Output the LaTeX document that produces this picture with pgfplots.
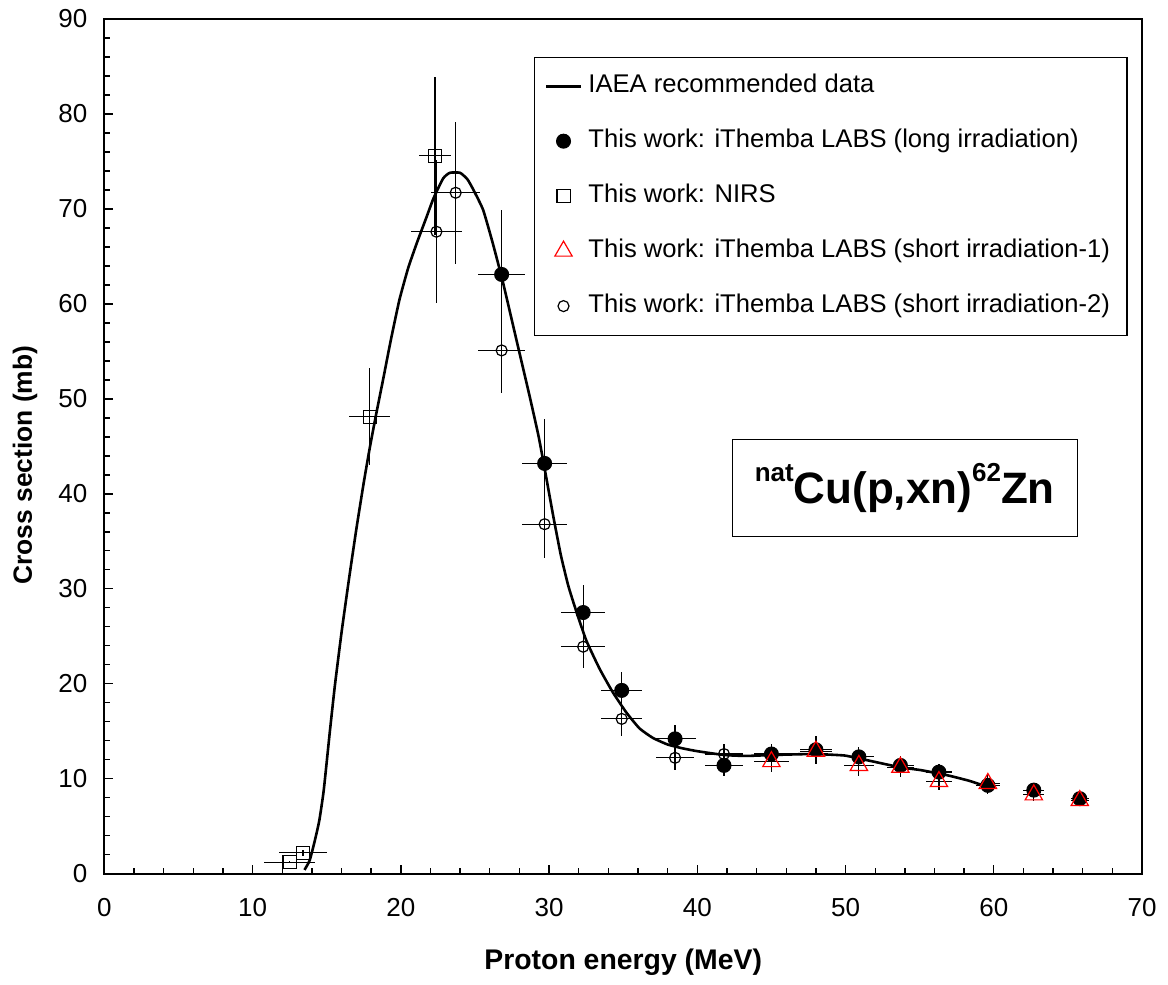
\documentclass[border=0pt]{standalone}
\usepackage{fontspec}
\setmainfont{Liberation Sans}
\usepackage{pgfplots}
\pgfplotsset{compat=1.18}
\usepackage{pgfplotstable}

\pgfplotstableread{
x y
13.5 0.4
13.85 1.4
14.2 3.5
14.5 5.6
14.8 8.8
15.2 14.8
15.55 19.8
16.0 25.4
16.5 31.0
17.0 36.3
17.5 41.2
17.9 44.8
18.3 48.1
18.8 52.0
19.3 56.0
19.9 60.4
20.5 63.8
21.1 66.5
21.7 69.0
22.2 71.1
22.85 73.2
23.3 73.8
24.0 73.8
24.5 73.1
24.9 72.0
25.55 69.9
26.2 66.4
26.9 62.2
27.8 56.2
28.7 50.2
29.3 46.0
29.8 41.8
30.3 37.5
30.8 33.5
31.3 30.3
31.8 27.8
32.5 24.6
33.4 21.6
34.3 19.1
35.2 17.0
36.1 15.3
37.0 14.3
38.0 13.6
39.0 13.2
40.0 12.9
41.8 12.5
43.3 12.4
45.1 12.5
47.8 12.6
49.9 12.45
51.0 12.1
51.9 11.8
53.7 11.2
55.1 10.9
56.9 10.35
58.3 9.8
59.1 9.4
59.7 9.2
}\iaea

\pgfplotstableread{
x y ex ey
26.8 63.1 1.6 6.8
29.7 43.2 1.5 4.7
32.3 27.5 1.5 2.9
34.9 19.3 1.4 1.9
38.5 14.2 1.4 1.5
41.8 11.4 1.3 1.1
45.0 12.6 1.2 1.1
48.0 13.05 1.1 1.4
50.9 12.3 1.0 1.0
53.7 11.4 0.9 1.0
56.3 10.7 0.9 0.9
59.6 9.3 0.8 0.9
62.7 8.8 0.7 0.6
65.8 7.9 0.6 0.5
}\longirr

\pgfplotstableread{
x y ex ey
12.5 1.2 1.7 0.1
13.4 2.2 1.6 0.3
17.9 48.1 1.4 5.1
22.3 75.6 1.1 8.3
}\nirs

\pgfplotstableread{
x y ex ey
45.0 11.8 1.2 1.1
48.0 12.9 1.1 1.3
50.9 11.4 1.0 1.1
53.7 11.2 0.9 1.0
56.3 9.7 0.9 0.9
59.6 9.5 0.8 0.9
62.7 8.3 0.7 0.6
65.8 7.7 0.6 0.5
}\shortone

\pgfplotstableread{
x y ex ey
22.4 67.6 1.7 7.5
23.7 71.7 1.65 7.5
26.8 55.1 1.6 4.5
29.7 36.8 1.5 3.6
32.3 23.9 1.5 2.2
34.9 16.3 1.4 1.8
38.5 12.2 1.3 1.3
41.8 12.6 1.3 1.1
}\shorttwo

\begin{document}
\begin{tikzpicture}
\begin{axis}[
  scale only axis, width=519pt, height=427.5pt,
  xmin=0, xmax=70, ymin=0, ymax=90,
  xtick={0,10,...,70}, ytick={0,10,...,90},
  minor x tick num=4, minor y tick num=4,
  tick align=inside, xtick pos=lower, ytick pos=left,
  major tick length=4.5pt, minor tick length=3pt,
  tick style={black, line width=0.7pt},
  axis line style={black, line width=0.9pt},
  /pgf/number format/assume math mode=true,
  tick label style={font=\fontsize{13}{15}\selectfont},
  xticklabel style={yshift=-9pt},
  yticklabel style={xshift=-5pt},
  xlabel={Proton energy (MeV)}, ylabel={Cross section (mb)},
  xlabel style={font=\bfseries\fontsize{14.2}{17}\selectfont, at={(axis description cs:0.5,-0.103)}, anchor=center},
  ylabel style={font=\bfseries\fontsize{13.2}{16}\selectfont, at={(axis description cs:-0.0765,0.478)}, anchor=center},
  legend style={at={(axis description cs:0.414,0.956)}, anchor=north west,
    draw=black, line width=0.6pt, font=\fontsize{12.8}{15}\selectfont,
    row sep=8.5pt, inner xsep=5.25pt, inner ysep=5pt,
    nodes={inner sep=3.25pt},
    /tikz/column 2/.style={nodes={text height=9.5pt, text depth=3pt}}},
  legend cell align=left,
  error bars/error bar style={black, line width=0.6pt},
]
\addplot[black, line width=1.3pt, smooth, tension=0.3,
  legend image code/.code={\draw[black, line width=1.4pt] (0cm,0cm) -- (0.6cm,0cm);}]
  table[x=x,y=y] {\iaea};
\addlegendentry{IAEA recommended data}

\addplot[only marks, mark=*, mark size=3.5pt, mark options={draw=black, fill=black, line width=0.5pt},
  error bars/.cd, x dir=both, x explicit, y dir=both, y explicit, error mark=none]
  table[x=x, y=y, x error=ex, y error=ey] {\longirr};
\addlegendentry{This work: iThemba LABS (long irradiation)}

\addplot[only marks, mark=square, mark size=3.3pt, mark options={draw=black, line width=0.6pt},
  error bars/.cd, x dir=both, x explicit, y dir=both, y explicit, error mark=none]
  table[x=x, y=y, x error=ex, y error=ey] {\nirs};
\addlegendentry{This work: NIRS}

\addplot[only marks, mark=triangle, mark size=5pt, mark options={draw=red, line width=0.6pt},
  error bars/.cd, x dir=both, x explicit, y dir=both, y explicit, error mark=none]
  table[x=x, y=y, x error=ex, y error=ey] {\shortone};
\addlegendentry{This work: iThemba LABS (short irradiation-1)}

\addplot[only marks, mark=o, mark size=2.75pt, mark options={draw=black, line width=0.6pt},
  error bars/.cd, x dir=both, x explicit, y dir=both, y explicit, error mark=none]
  table[x=x, y=y, x error=ex, y error=ey] {\shorttwo};
\addlegendentry{This work: iThemba LABS (short irradiation-2)}

\node[draw=black, line width=0.6pt, minimum width=172.5pt, minimum height=48.5pt, inner sep=0pt, font=\bfseries]
  at (axis cs:54,40.6)
  {{\fontsize{13}{15}\selectfont\raisebox{11pt}{nat}}{\fontsize{22}{26}\selectfont Cu(p,xn)}{\fontsize{13}{15}\selectfont\raisebox{11pt}{62}}{\fontsize{22}{26}\selectfont Zn}};
\end{axis}
\pgfresetboundingbox
\path[use as bounding box] ([shift={(-52.2pt,-55.5pt)}]current axis.south west) rectangle ([shift={(13pt,9.5pt)}]current axis.north east);
\end{tikzpicture}
\end{document}
